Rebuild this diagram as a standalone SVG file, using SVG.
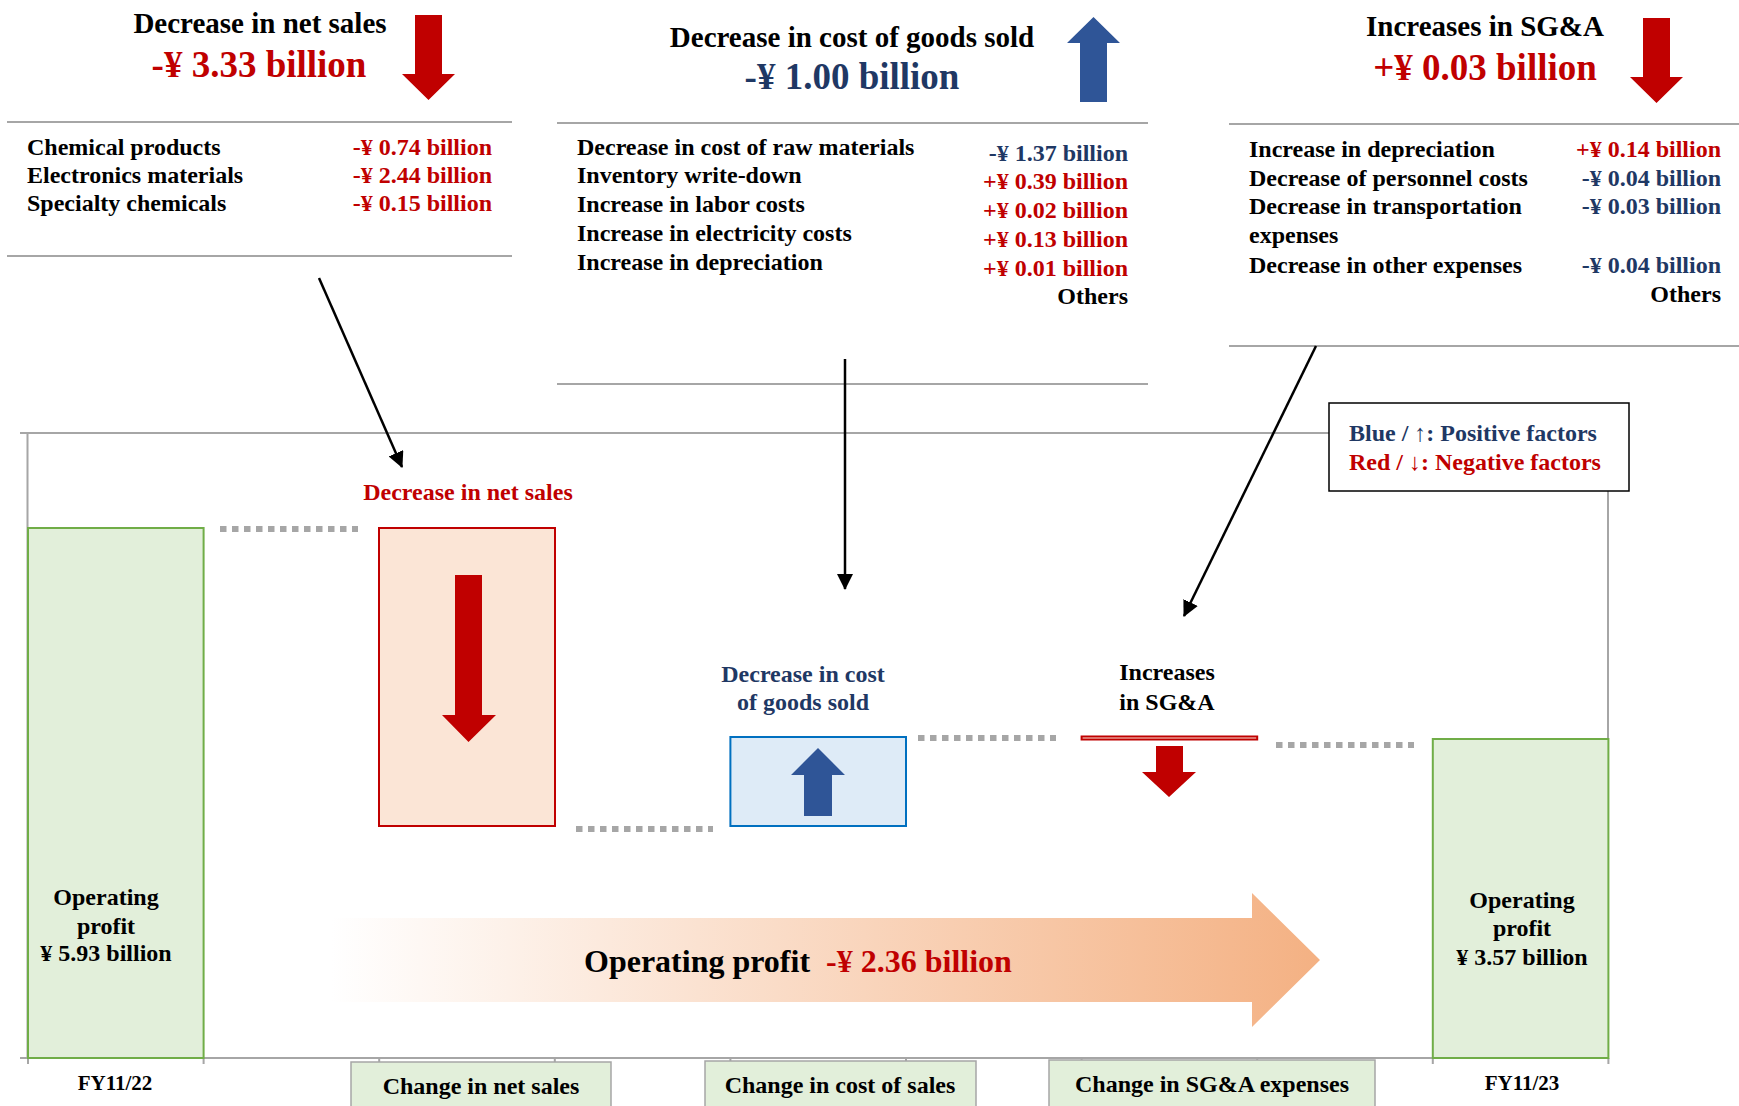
<svg xmlns="http://www.w3.org/2000/svg" width="1739" height="1106" viewBox="0 0 1739 1106">
<style>
text{font-family:"Liberation Serif","Times New Roman",serif;font-weight:bold;}
.t29{font-size:29px;fill:#000;}
.v36{font-size:37px;}
.r{fill:#C00000;}
.b{fill:#1F3864;}
.k{fill:#000;}
.s24{font-size:24px;}
.s21{font-size:21px;}
.s32{font-size:32px;}
.mid{text-anchor:middle;}
.end{text-anchor:end;}
.sep{stroke:#A6A6A6;stroke-width:2;fill:none;}
.dot{stroke:#A6A6A6;stroke-width:6;stroke-dasharray:6.5 5.5;fill:none;}
.conn{stroke:#000;stroke-width:2.5;fill:none;marker-end:url(#ah);}
.green{fill:#E2EFDA;stroke:#70AD47;stroke-width:2;}
.cat{fill:#E2EFDA;stroke:#A6A6A6;stroke-width:1.5;}
.redA{fill:#C00000;}
.blueA{fill:#2F5597;}
</style>
<defs>
<marker id="ah" viewBox="0 0 16 16" refX="15" refY="8" markerWidth="16" markerHeight="16" markerUnits="userSpaceOnUse" orient="auto">
<path d="M0,0 L16,8 L0,16 z" fill="#000"/>
</marker>
<linearGradient id="og" gradientUnits="userSpaceOnUse" x1="331" y1="0" x2="1320" y2="0">
<stop offset="0" stop-color="#FFFFFF"/>
<stop offset="1" stop-color="#F4B183"/>
</linearGradient>
</defs>
<rect width="1739" height="1106" fill="#FFFFFF"/>

<!-- Top left section -->
<g id="sec-net-sales">
<text class="t29 mid" x="260" y="33">Decrease in net sales</text>
<text class="v36 r mid" x="259" y="77">-¥ 3.33 billion</text>
<polygon class="redA" points="415,15 442,15 442,74 455,74 428.5,100 402,74 415,74"/>
<line class="sep" x1="7" y1="122" x2="512" y2="122"/>
<line class="sep" x1="7" y1="256" x2="512" y2="256"/>
<text class="s24 k" x="27" y="155">Chemical products</text>
<text class="s24 k" x="27" y="183">Electronics materials</text>
<text class="s24 k" x="27" y="211">Specialty chemicals</text>
<text class="s24 r end" x="492" y="155">-¥ 0.74 billion</text>
<text class="s24 r end" x="492" y="183">-¥ 2.44 billion</text>
<text class="s24 r end" x="492" y="211">-¥ 0.15 billion</text>
</g>

<!-- Top middle section -->
<g id="sec-cogs">
<text class="t29 mid" x="852" y="47">Decrease in cost of goods sold</text>
<text class="v36 b mid" x="852" y="89">-¥ 1.00 billion</text>
<polygon class="blueA" points="1093.5,17 1120,43 1107,43 1107,102 1080,102 1080,43 1067,43"/>
<line class="sep" x1="557" y1="123" x2="1148" y2="123"/>
<line class="sep" x1="557" y1="384" x2="1148" y2="384"/>
<text class="s24 k" x="577" y="155">Decrease in cost of raw materials</text>
<text class="s24 k" x="577" y="183">Inventory write-down</text>
<text class="s24 k" x="577" y="212">Increase in labor costs</text>
<text class="s24 k" x="577" y="241">Increase in electricity costs</text>
<text class="s24 k" x="577" y="270">Increase in depreciation</text>
<text class="s24 b end" x="1128" y="161">-¥ 1.37 billion</text>
<text class="s24 r end" x="1128" y="189">+¥ 0.39 billion</text>
<text class="s24 r end" x="1128" y="218">+¥ 0.02 billion</text>
<text class="s24 r end" x="1128" y="247">+¥ 0.13 billion</text>
<text class="s24 r end" x="1128" y="276">+¥ 0.01 billion</text>
<text class="s24 k end" x="1128" y="304">Others</text>
</g>

<!-- Top right section -->
<g id="sec-sga">
<text class="t29 mid" x="1485" y="36">Increases in SG&amp;A</text>
<text class="v36 r mid" x="1485" y="80">+¥ 0.03 billion</text>
<polygon class="redA" points="1643,18 1670,18 1670,77 1683,77 1656.5,103 1630,77 1643,77"/>
<line class="sep" x1="1229" y1="124" x2="1739" y2="124"/>
<line class="sep" x1="1229" y1="346" x2="1739" y2="346"/>
<text class="s24 k" x="1249" y="157">Increase in depreciation</text>
<text class="s24 k" x="1249" y="186">Decrease of personnel costs</text>
<text class="s24 k" x="1249" y="214">Decrease in transportation</text>
<text class="s24 k" x="1249" y="243">expenses</text>
<text class="s24 k" x="1249" y="273">Decrease in other expenses</text>
<text class="s24 r end" x="1721" y="157">+¥ 0.14 billion</text>
<text class="s24 b end" x="1721" y="186">-¥ 0.04 billion</text>
<text class="s24 b end" x="1721" y="214">-¥ 0.03 billion</text>
<text class="s24 b end" x="1721" y="273">-¥ 0.04 billion</text>
<text class="s24 k end" x="1721" y="302">Others</text>
</g>

<!-- Chart frame and axis -->
<g id="frame">
<polyline class="sep" points="20,433 1329,433"/>
<line class="sep" x1="27.5" y1="433" x2="27.5" y2="1058"/>
<line class="sep" x1="1608" y1="491" x2="1608" y2="1058"/>
<line class="sep" x1="20" y1="1058" x2="1609" y2="1058"/>
<path class="sep" d="M28,1058v6 M203.6,1058v6 M379.2,1058v6 M554.8,1058v6 M730.4,1058v6 M906,1058v6 M1081.6,1058v6 M1257.2,1058v6 M1432.8,1058v6 M1608.4,1058v6"/>
</g>

<!-- Legend -->
<g id="legend">
<rect x="1329" y="403" width="300" height="88" fill="#FFFFFF" stroke="#000" stroke-width="1.5"/>
<text class="s24 b" x="1349" y="441">Blue / ↑: Positive factors</text>
<text class="s24 r" x="1349" y="470">Red / ↓: Negative factors</text>
</g>

<!-- Bars -->
<g id="bar-fy22">
<rect class="green" x="28" y="528" width="175.6" height="530"/>
<text class="s24 k mid" x="106" y="905">Operating</text>
<text class="s24 k mid" x="106" y="934">profit</text>
<text class="s24 k mid" x="106" y="961">¥ 5.93 billion</text>
</g>

<g id="bar-net-sales">
<text class="s24 r mid" x="468" y="500">Decrease in net sales</text>
<rect x="379" y="528" width="176" height="298" fill="#FBE5D6" stroke="#C00000" stroke-width="2"/>
<polygon class="redA" points="455,575 482,575 482,715 496,715 468.5,742 442,715 455,715"/>
</g>

<g id="bar-cogs">
<text class="s24 b mid" x="803" y="682">Decrease in cost</text>
<text class="s24 b mid" x="803" y="710">of goods sold</text>
<rect x="730.4" y="737" width="175.6" height="89" fill="#DEEBF7" stroke="#0070C0" stroke-width="2"/>
<polygon class="blueA" points="818,748 845,775 832,775 832,816 804,816 804,775 791,775"/>
</g>

<g id="bar-sga">
<text class="s24 k mid" x="1167" y="680">Increases</text>
<text class="s24 k mid" x="1167" y="710">in SG&amp;A</text>
<rect x="1081.6" y="736.5" width="175.6" height="3" fill="#FBE5D6" stroke="#C00000" stroke-width="2"/>
<polygon class="redA" points="1156,746 1183,746 1183,772 1196,772 1169,797 1142,772 1156,772"/>
</g>

<g id="bar-fy23">
<rect class="green" x="1432.8" y="739" width="175.6" height="319"/>
<text class="s24 k mid" x="1522" y="908">Operating</text>
<text class="s24 k mid" x="1522" y="936">profit</text>
<text class="s24 k mid" x="1522" y="965">¥ 3.57 billion</text>
</g>

<!-- Summary arrow -->
<g id="summary">
<polygon points="331,918 1252,918 1252,893 1320,960 1252,1027 1252,1002 331,1002" fill="url(#og)"/>
<text class="s32 k" x="584" y="972">Operating profit<tspan class="r" dx="16">-¥ 2.36 billion</tspan></text>
</g>

<!-- Category labels -->
<g id="categories">
<text class="s21 k mid" x="115" y="1090">FY11/22</text>
<rect class="cat" x="351" y="1062" width="260" height="50"/>
<text class="s24 k mid" x="481" y="1094">Change in net sales</text>
<rect class="cat" x="705" y="1061" width="271" height="50"/>
<text class="s24 k mid" x="840" y="1093">Change in cost of sales</text>
<rect class="cat" x="1049" y="1060" width="326" height="50"/>
<text class="s24 k mid" x="1212" y="1092">Change in SG&amp;A expenses</text>
<text class="s21 k mid" x="1522" y="1090">FY11/23</text>
</g>

<!-- Connectors -->
<g id="connectors">
<line class="dot" x1="220" y1="529" x2="358" y2="529"/>
<line class="dot" x1="576" y1="829" x2="713" y2="829"/>
<line class="dot" x1="918" y1="738" x2="1056" y2="738"/>
<line class="dot" x1="1276" y1="745" x2="1414" y2="745"/>
<line class="conn" x1="319" y1="278" x2="402" y2="467"/>
<line class="conn" x1="845" y1="359" x2="845" y2="589"/>
<line class="conn" x1="1316" y1="346" x2="1184" y2="616"/>
</g>
</svg>
